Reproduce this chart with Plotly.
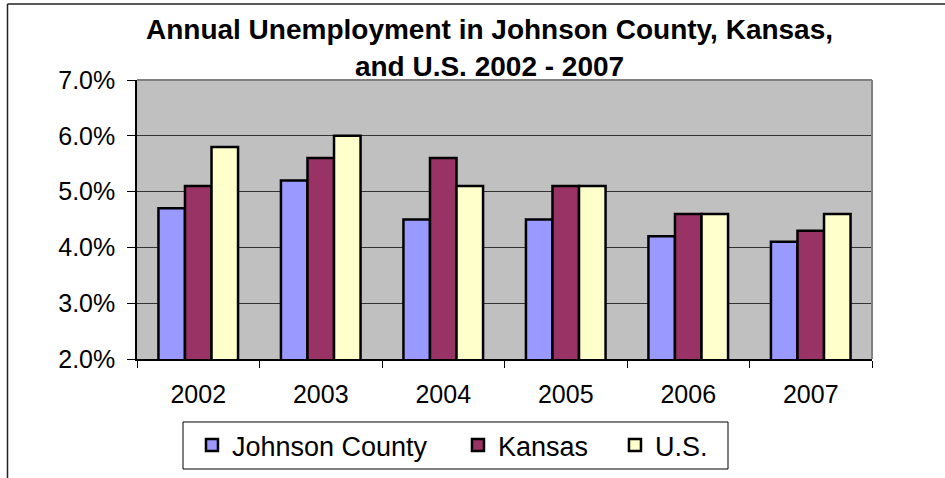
import plotly.graph_objects as go

years = ["2002", "2003", "2004", "2005", "2006", "2007"]
johnson = [4.7, 5.2, 4.5, 4.5, 4.2, 4.1]
kansas = [5.1, 5.6, 5.6, 5.1, 4.6, 4.3]
us = [5.8, 6.0, 5.1, 5.1, 4.6, 4.6]
series_names = ["Johnson County", "Kansas", "U.S."]
series_colors = ["#9999FF", "#993366", "#FFFFCC"]
y_ticks = [2, 3, 4, 5, 6, 7]

FONT = "Liberation Sans, Arial, sans-serif"
legend_ids = ["legend", "legend2", "legend3"]
legend_x = [0.0748, 0.4367, 0.6503]

fig = go.Figure()
for name, vals, col, lid in zip(series_names, [johnson, kansas, us], series_colors, legend_ids):
    fig.add_trace(go.Bar(
        x=years, y=vals, name=name, legend=lid,
        marker=dict(color=col, line=dict(color="black", width=2.5)),
    ))

def leg(xpos):
    return dict(
        orientation="h",
        x=xpos, xanchor="left",
        y=-0.310, yanchor="middle",
        bgcolor="rgba(0,0,0,0)",
        borderwidth=0,
        font=dict(size=27, family=FONT, color="black"),
    )

fig.update_layout(
    width=945, height=478,
    margin=dict(l=137, r=73, t=80, b=119, autoexpand=False),
    paper_bgcolor="white",
    plot_bgcolor="#C0C0C0",
    barmode="group",
    bargap=0.35,
    bargroupgap=0,
    font=dict(family=FONT, color="black"),
    title=dict(
        text="<b>Annual Unemployment in Johnson County, Kansas,<br>and U.S. 2002 - 2007</b>",
        x=0.518, xanchor="center", xref="container",
        y=0.918, yanchor="top", yref="container",
        font=dict(size=28, family=FONT, color="black"),
    ),
    showlegend=True,
    legend=leg(legend_x[0]),
    legend2=leg(legend_x[1]),
    legend3=leg(legend_x[2]),
    xaxis=dict(
        type="category",
        range=[-0.5, 5.5],
        showline=True, linecolor="black", linewidth=1.5,
        ticks="outside", tickson="boundaries", ticklen=7, tickcolor="black", tickwidth=1,
        tickfont=dict(size=25, family=FONT, color="black"),
        showgrid=False,
        ticklabelstandoff=12,
    ),
    yaxis=dict(
        range=[2, 7],
        tickvals=y_ticks,
        ticktext=[f"{v:.1f}%" for v in y_ticks],
        showline=True, linecolor="black", linewidth=1.5,
        ticks="outside", ticklen=8, tickcolor="black", tickwidth=1,
        tickfont=dict(size=25, family=FONT, color="black"),
        showgrid=True, gridcolor="#333333", gridwidth=1,
        ticklabelstandoff=7,
        zeroline=False,
    ),
    shapes=[
        # gray plot-area border on top and right
        dict(type="line", xref="paper", yref="paper", x0=0, x1=1, y0=1, y1=1,
             line=dict(color="#808080", width=2)),
        dict(type="line", xref="paper", yref="paper", x0=1, x1=1, y0=0, y1=1,
             line=dict(color="#808080", width=2)),
        # outer chart frame (top and left visible)
        dict(type="line", xref="paper", yref="paper", x0=-0.1762, x1=1.2, y0=1.2724, y1=1.2724,
             line=dict(color="#222222", width=1.5)),
        dict(type="line", xref="paper", yref="paper", x0=-0.1762, x1=-0.1762, y0=1.2724, y1=-0.5,
             line=dict(color="#222222", width=1.5)),
        # legend box
        dict(type="rect", xref="paper", yref="paper", x0=0.0626, x1=0.8041, y0=-0.3943, y1=-0.2258,
             line=dict(color="black", width=1), fillcolor="white", layer="below"),
    ],
)

fig.write_html("out.html", config={"displayModeBar": False},
               post_script="document.body.style.margin='0';")
